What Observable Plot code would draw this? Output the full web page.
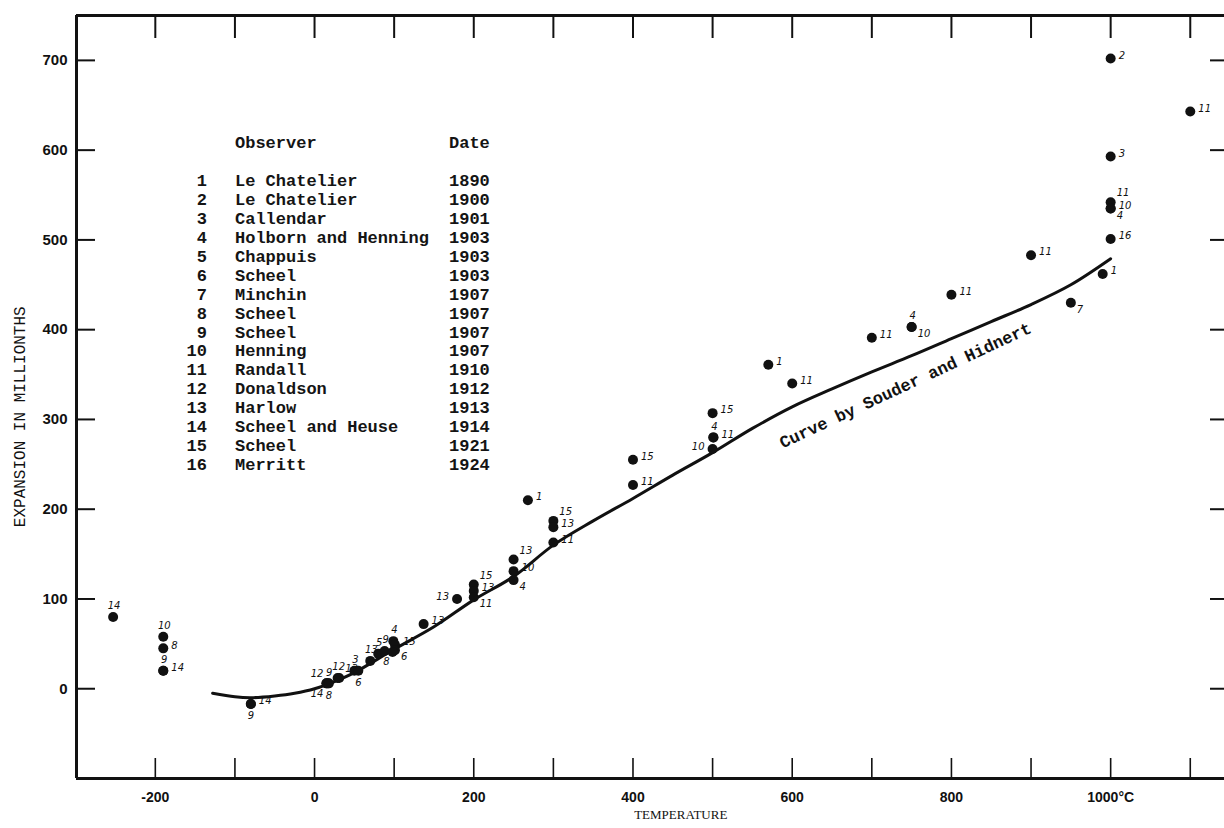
<!DOCTYPE html>
<html>
<head>
<meta charset="utf-8">
<script src="https://cdn.jsdelivr.net/npm/d3@7"></script>
<script src="https://cdn.jsdelivr.net/npm/@observablehq/plot@0.6"></script>
<style>
  body { margin: 0; background: #fff; }
  #wrap { position: relative; width: 1224px; height: 828px; overflow: hidden; }
  #legend { position: absolute; left: 0; top: 0; font-family: "Liberation Mono", monospace; font-weight: bold; font-size: 17px; color: #141414; }
  .cell { position: absolute; white-space: pre; line-height: 18.9px; }
  .num { text-align: right; width: 60px; }
  g[aria-label="ylabel"] text { letter-spacing: 1.6px; }
  g[aria-label="xlabel"] text { letter-spacing: 1.2px; }
</style>
</head>
<body>
<div id="wrap"><div id="chart"></div><div id="legend"></div></div>
<script>
// ---------- data ----------
// Observed points: temperature (°C), expansion (millionths), observer number, label placement
const ptTemp = [-253, -190, -190, -190, -190, -80, -80, 15, 17, 15, 18, 29, 31, 50, 55, 70, 80, 88, 99, 101, 101, 98,
  137, 179, 200, 200, 200, 250, 250, 250, 268, 300, 300, 300, 400, 400, 500, 501, 501, 500,
  570, 600, 700, 750, 750, 800, 900, 950, 990, 1000, 1000, 1000, 1000, 1000, 1000, 1100];
const ptExp = [80, 58, 45, 20, 20, -17, -17, 6, 6, 6, 6, 12, 12, 20, 20, 31, 39, 42, 53, 49, 43, 41,
  72, 100, 116, 109, 102, 144, 131, 121, 210, 187, 180, 163, 255, 227, 307, 280, 280, 267,
  361, 340, 391, 403, 403, 439, 483, 430, 462, 702, 593, 542, 535, 535, 501, 643];
const ptObs = ["14", "10", "8", "9", "14", "14", "9", "12", "9", "14", "8", "12", "13", "3", "6", "13", "5", "9", "4", "15", "6", "8",
  "13", "13", "15", "13", "11", "13", "10", "4", "1", "15", "13", "11", "15", "11", "15", "4", "11", "10",
  "1", "11", "11", "4", "10", "11", "11", "7", "1", "2", "3", "11", "10", "4", "16", "11"];
const ptPos = ["a", "a", "r", "a", "r", "r", "b", "al", "a", "bl", "b", "a", "ar", "a", "b", "a", "a", "a", "a", "r", "br", "bl",
  "r", "l", "ar", "r", "br", "ar", "r", "br", "r", "ar", "r", "r", "r", "r", "r", "a", "r", "l",
  "r", "r", "r", "a", "br", "r", "r", "br", "r", "r", "r", "ar", "r", "br", "r", "r"];

// Curve by Souder and Hidnert
const curveTemp = [-128, -100, -80, -50, -25, 0, 25, 50, 100, 150, 200, 250, 300, 350, 400, 450, 500, 550, 600, 650, 700, 750, 800, 850, 900, 950, 1000];
const curveExp = [-5, -9, -10, -8, -5, 0, 8, 18, 44, 69, 99, 125, 160, 187, 212, 238, 263, 290, 314, 334, 353, 371, 390, 409, 428, 450, 479];

// Legend table
const legendNum = ["1", "2", "3", "4", "5", "6", "7", "8", "9", "10", "11", "12", "13", "14", "15", "16"];
const legendObserver = ["Le Chatelier", "Le Chatelier", "Callendar", "Holborn and Henning", "Chappuis", "Scheel", "Minchin", "Scheel",
  "Scheel", "Henning", "Randall", "Donaldson", "Harlow", "Scheel and Heuse", "Scheel", "Merritt"];
const legendDate = ["1890", "1900", "1901", "1903", "1903", "1903", "1907", "1907", "1907", "1907", "1910", "1912", "1913", "1914", "1921", "1924"];

// Axes
const xTicks = [-200, -100, 0, 100, 200, 300, 400, 500, 600, 700, 800, 900, 1000, 1100];
const xTickLabels = [-200, 0, 200, 400, 600, 800, 1000];
const yTicks = [0, 100, 200, 300, 400, 500, 600, 700];
const xDomain = [-299, 1143];
const yDomain = [-100, 750];
const xTitle = "TEMPERATURE";
const xTitleAt = 460;
const yTitle = "EXPANSION IN MILLIONTHS";
const yTitleAt = 303;
const curveLabel = "Curve by Souder and Hidnert";
const curveLabelTemp = 742;
const curveLabelExp = 338;

// ---------- build ----------
const pts = ptTemp.map((t, i) => ({t, e: ptExp[i], obs: ptObs[i], pos: ptPos[i]}));
const curve = curveTemp.map((t, i) => ({t, e: curveExp[i]}));

const placements = {
  r:  {dx: 8,  dy: -3,  textAnchor: "start"},
  a:  {dx: 1,  dy: -11, textAnchor: "middle"},
  b:  {dx: 0,  dy: 12,  textAnchor: "middle"},
  l:  {dx: -8, dy: -2,  textAnchor: "end"},
  ar: {dx: 6,  dy: -9,  textAnchor: "start"},
  br: {dx: 6,  dy: 7,   textAnchor: "start"},
  al: {dx: -3, dy: -10, textAnchor: "end"},
  bl: {dx: -3, dy: 10,  textAnchor: "end"}
};
const labelMarks = Object.entries(placements).map(([k, o]) =>
  Plot.text(pts.filter(d => d.pos === k), {x: "t", y: "e", text: "obs", ...o,
    fontSize: 10, fontStyle: "italic", fontFamily: "DejaVu Sans", fill: "#111"}));

const chart = Plot.plot({
  width: 1224, height: 828,
  marginLeft: 76, marginRight: 0, marginTop: 15, marginBottom: 50,
  x: {domain: xDomain},
  y: {domain: yDomain},
  style: {fontFamily: "Liberation Sans, Arial, sans-serif", background: "#fff", color: "#111"},
  marks: [
    Plot.ruleX([xDomain[0]], {strokeWidth: 3, stroke: "#111"}),
    Plot.ruleY(yDomain, {strokeWidth: 3, stroke: "#111"}),
    Plot.axisX(xTicks, {anchor: "bottom", tickSize: -20, tickFormat: () => "", strokeWidth: 1.6, label: null}),
    Plot.axisX(xTicks, {anchor: "top", tickSize: -22, tickFormat: () => "", strokeWidth: 2, label: null}),
    Plot.axisX(xTickLabels, {anchor: "bottom", tickSize: 0, tickPadding: 14,
      tickFormat: d => d === 1000 ? "1000°C" : String(d), fontSize: 14, fontWeight: "bold", label: null}),
    Plot.axisY(yTicks, {anchor: "left", tickSize: -19, tickPadding: 28, fontSize: 15, fontWeight: "bold", strokeWidth: 2, label: null}),
    Plot.axisY(yTicks, {anchor: "right", tickSize: -15, tickFormat: () => "", strokeWidth: 2, label: null}),
    Plot.line(curve, {x: "t", y: "e", curve: "catmull-rom", strokeWidth: 3, stroke: "#111"}),
    Plot.dot(pts, {x: "t", y: "e", r: 5, fill: "#111"}),
    ...labelMarks,
    Plot.text([curveLabel], {x: curveLabelTemp, y: curveLabelExp, text: d => d, rotate: -25,
      fontSize: 17, fontFamily: "Liberation Mono", fontWeight: "bold", fill: "#111"}),
    Plot.text([xTitle], {x: xTitleAt, frameAnchor: "bottom", dy: 40, text: d => d,
      fontSize: 13, fontFamily: "Liberation Serif", fill: "#111", ariaLabel: "xlabel"}),
    Plot.text([yTitle], {y: yTitleAt, frameAnchor: "left", dx: -57, rotate: -90, textAnchor: "middle", text: d => d,
      fontSize: 16, fontFamily: "Liberation Mono", fill: "#111", ariaLabel: "ylabel"})
  ]
});
document.getElementById("chart").appendChild(chart);

// Legend (Observer / Date table)
const legend = document.getElementById("legend");
function cell(text, left, top, cls) {
  const el = document.createElement("div");
  el.className = "cell" + (cls ? " " + cls : "");
  el.textContent = text;
  el.style.left = left + "px";
  el.style.top = top + "px";
  legend.appendChild(el);
}
const headTop = 134.6, rowTop = 173.3, rowStep = 18.9;
cell("Observer", 235, headTop);
cell("Date", 449, headTop);
legendNum.forEach((n, i) => {
  const top = rowTop + i * rowStep;
  cell(n, 147, top, "num");
  cell(legendObserver[i], 235, top);
  cell(legendDate[i], 449, top);
});
</script>
</body>
</html>
